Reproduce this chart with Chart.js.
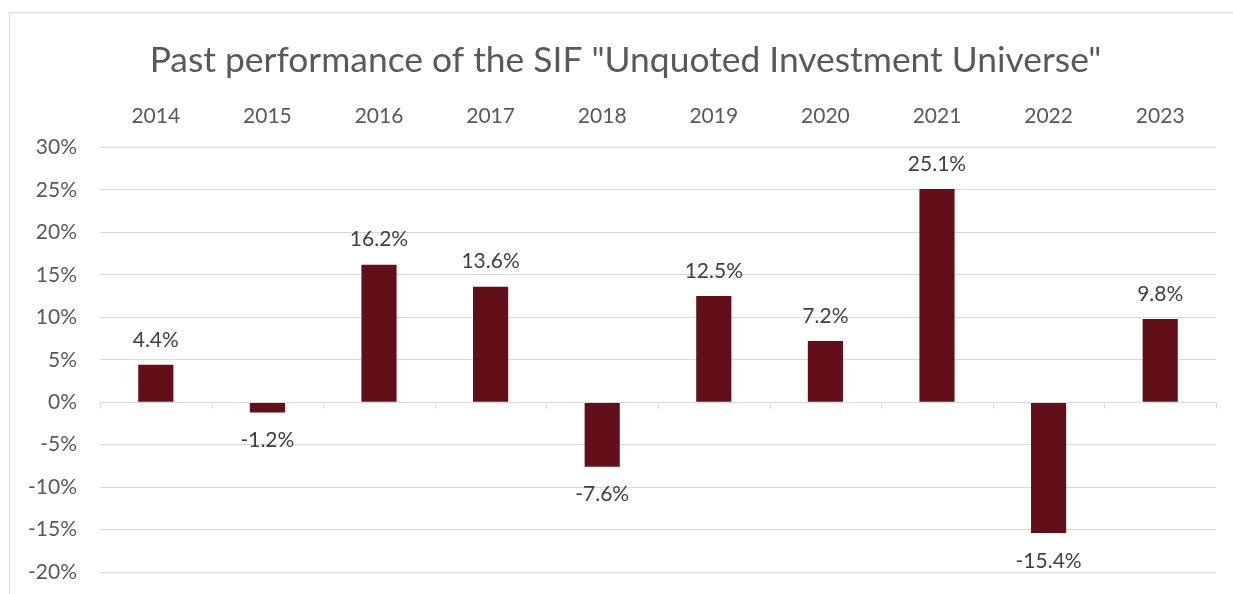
<!DOCTYPE html>
<html>
<head>
<meta charset="utf-8">
<title>Past performance</title>
<script src="https://cdn.jsdelivr.net/npm/chart.js@4"></script>
<style>
  html, body { margin: 0; padding: 0; background: #fff; }
  #wrap { position: relative; width: 1233px; height: 594px; overflow: hidden; }
  #frame {
    position: absolute; left: 9px; top: 12px; width: 1300px; height: 700px;
    border-left: 1px solid #d9d9d9; border-top: 1px solid #d9d9d9;
    box-sizing: border-box; pointer-events: none;
  }
  canvas { position: absolute; left: 0; top: 0; }
</style>
</head>
<body>
<div id="wrap">
  <div id="frame"></div>
  <canvas id="perf" width="1233" height="594"></canvas>
</div>
<script>
/* Data */
const years = ['2014', '2015', '2016', '2017', '2018', '2019', '2020', '2021', '2022', '2023'];
const returns = [4.4, -1.2, 16.2, 13.6, -7.6, 12.5, 7.2, 25.1, -15.4, 9.8];
const yTicks = { min: -20, max: 30, step: 5 };

const FONT = "'Lato', 'Open Sans', sans-serif";
const BAR = '#620f17';
const GRID = '#d9d9d9';

/* Zero line with small category ticks, like the spreadsheet axis */
const zeroAxisPlugin = {
  id: 'zeroAxis',
  afterDatasetsDraw(chart) {
    const { ctx, scales: { x, y }, chartArea } = chart;
    const y0 = Math.round(y.getPixelForValue(0)) + 0.5;
    ctx.save();
    ctx.strokeStyle = GRID;
    ctx.lineWidth = 1;
    ctx.beginPath();
    ctx.moveTo(chartArea.left, y0);
    ctx.lineTo(chartArea.right, y0);
    const n = years.length;
    for (let i = 0; i <= n; i++) {
      const px = Math.round(x.getPixelForValue(i - 0.5)) + 0.5;
      ctx.moveTo(px, y0);
      ctx.lineTo(px, y0 + 6);
    }
    ctx.stroke();
    ctx.restore();
  }
};

/* Value labels above / below each bar */
const valueLabelPlugin = {
  id: 'valueLabels',
  afterDatasetsDraw(chart) {
    const { ctx } = chart;
    const meta = chart.getDatasetMeta(0);
    ctx.save();
    ctx.font = '21px ' + FONT;
    ctx.fillStyle = '#404040';
    ctx.textAlign = 'center';
    ctx.textBaseline = 'middle';
    meta.data.forEach((bar, i) => {
      const v = returns[i];
      const ty = v >= 0 ? bar.y - 25 : bar.y + 28;
      ctx.fillText(v.toFixed(1) + '%', bar.x, ty);
    });
    ctx.restore();
  }
};

new Chart(document.getElementById('perf'), {
  type: 'bar',
  data: {
    labels: years,
    datasets: [{
      data: returns,
      yAxisID: 'y',
      backgroundColor: BAR,
      borderWidth: 0,
      categoryPercentage: 1.0,
      barPercentage: 0.315
    }]
  },
  options: {
    responsive: false,
    animation: false,
    events: [],
    // left padding puts the title centre on the framed area
    layout: { padding: { left: 18, right: 0, top: 0, bottom: 22 } },
    plugins: {
      legend: { display: false },
      tooltip: { enabled: false },
      title: {
        display: true,
        text: 'Past performance of the SIF "Unquoted Investment Universe"',
        color: '#595959',
        font: { family: FONT, size: 35.4, weight: 'normal', lineHeight: 1.2 },
        padding: { top: 39, bottom: 0 }
      }
    },
    scales: {
      x: {
        position: 'top',
        grid: { display: false, drawTicks: false },
        border: { display: false },
        ticks: {
          color: '#595959',
          font: { family: FONT, size: 21 },
          padding: 19,
          maxRotation: 0
        },
        afterFit(scale) { scale.height = 66; }
      },
      y: {
        min: yTicks.min,
        max: yTicks.max,
        grid: { color: GRID, lineWidth: 1, drawTicks: false },
        border: { display: false },
        ticks: {
          stepSize: yTicks.step,
          color: '#595959',
          font: { family: FONT, size: 21 },
          padding: 23,
          callback: v => v + '%'
        },
        afterFit(scale) {
          scale.width = 82;
          scale.paddingTop = 0;
          scale.paddingBottom = 0;
        }
      },
      // empty spacer on the right edge
      yRight: {
        type: 'linear',
        position: 'right',
        grid: { display: false, drawTicks: false },
        border: { display: false },
        ticks: { display: false },
        afterFit(scale) {
          scale.width = 17;
          scale.paddingTop = 0;
          scale.paddingBottom = 0;
        }
      }
    }
  },
  plugins: [zeroAxisPlugin, valueLabelPlugin]
});
</script>
</body>
</html>
